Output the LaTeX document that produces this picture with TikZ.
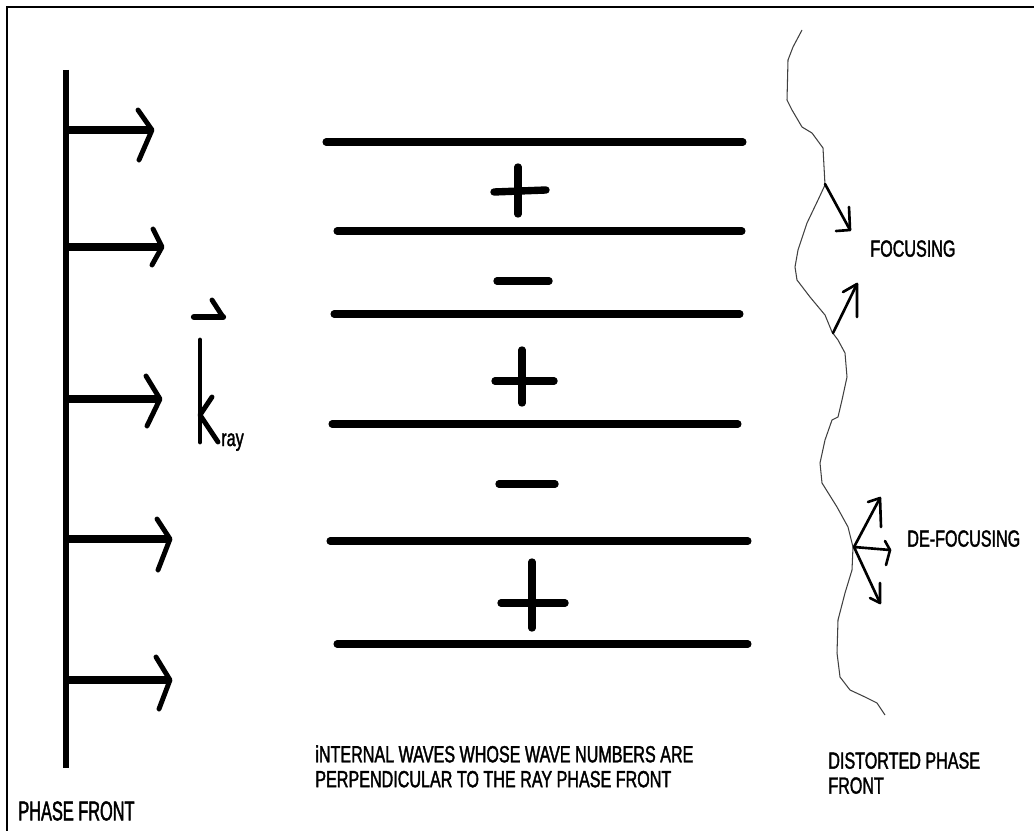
\documentclass[tikz,border=0pt]{standalone}
\usepackage{fontspec}
\newfontfamily\lab{Liberation Sans}[FakeStretch=0.69,FakeBold=1.6]
\newfontfamily\labn{Liberation Sans}[FakeStretch=0.6,FakeBold=1.6]
\begin{document}
\begin{tikzpicture}[x=0.02cm,y=-0.02cm,
  frame/.style={line width=1.3pt},
  pfline/.style={line width=2.9pt},
  shaft/.style={line width=4.4pt},
  chev/.style={line width=2.8pt,line cap=round,line join=round},
  kstroke/.style={line width=2.8pt,line cap=round,line join=round},
  kbar/.style={line width=3.6pt,line cap=round,line join=round},
  wave/.style={line width=4pt,line cap=round},
  sign/.style={line width=4.2pt,line cap=round},
  front/.style={line width=0.6pt,black!75,line join=round},
  small/.style={line width=1.5pt,line cap=round,line join=round},
  lbl/.style={inner sep=0pt,font=\lab\fontsize{13.3}{14.2}\selectfont,align=left},
]
\useasboundingbox (0,0) rectangle (1034,831);
% frame
\draw[frame] (7,831) -- (7,7) -- (1034,7);

% phase front
\coordinate (pft) at (66,70);
\coordinate (pfb) at (66,768);
\draw[pfline] (pft) -- (pfb);

% rays
\foreach \y/\tx/\ux/\uy/\lx/\ly [count=\i] in
  {130/152/138/110/139/160, 247/162/153/229/152/265, 399/160/146/376/147/426,
   539/170/157/519/158/570, 680/170/156/657/159/709}{
  \coordinate (s\i) at (66,\y);
  \coordinate (t\i) at (\tx,\y);
  \coordinate (u\i) at (\ux,\uy);
  \coordinate (l\i) at (\lx,\ly);
  \draw[shaft] (s\i) -- (t\i);
  \draw[chev] (u\i) -- (t\i) -- (l\i);
}

% k vector
\coordinate (kh) at (212,300);
\coordinate (kt) at (223,317);
\coordinate (kb) at (194,317);
\draw[kstroke] (kh) -- (kt);
\draw[kbar] (kt) -- (kb);
\coordinate (k1) at (200,340);
\coordinate (k2) at (200,442);
\coordinate (k3) at (212,397);
\coordinate (k4) at (200,415);
\coordinate (k5) at (218,442);
\draw[kstroke] (k1) -- (k2);
\draw[kstroke] (k3) -- (k4) -- (k5);
\node[lbl,anchor=base west] (ray) at (221,446) {ray};

% internal wave lines
\foreach \y/\a/\b [count=\i] in
  {142/326/743, 231/337/742, 314/334/740, 424/332/738, 541/330/748, 644/337/748}{
  \coordinate (wa\i) at (\a,\y);
  \coordinate (wb\i) at (\b,\y);
  \draw[wave] (wa\i) -- (wb\i);
}

% signs
\draw[sign] (494,192) -- (546,190);
\draw[sign] (518,167) -- (518,214);
\draw[sign] (497,281) -- (549,281);
\draw[sign] (495,381) -- (554,381);
\draw[sign] (522,350) -- (522,403);
\draw[sign] (499,484) -- (555,484);
\draw[sign] (501,603) -- (565,603);
\draw[sign] (532,562) -- (532,628);

% distorted phase front
\draw[front] (802,30) -- (793,47) -- (788,60) -- (787,100) -- (792,110) -- (802,127)
  -- (812,133) -- (823,148) -- (825,185) -- (818,200) -- (807,223) -- (798,250)
  -- (795,267) -- (797,280) -- (810,297) -- (825,315) -- (832,332) -- (838,340)
  -- (845,353) -- (847,377) -- (842,400) -- (838,417) -- (832,420) -- (825,440)
  -- (820,463) -- (822,483) -- (837,507) -- (848,527) -- (853,547) -- (852,570)
  -- (845,593) -- (838,620) -- (837,653) -- (840,677) -- (850,690) -- (865,697)
  -- (877,703) -- (885,715);

% focusing arrows
\coordinate (f1o) at (825,184);
\coordinate (f1t) at (850,230);
\draw[small] (f1o) -- (f1t);
\draw[small] (849,207) -- (f1t) -- (836,231);
\coordinate (f2o) at (833,333);
\coordinate (f2t) at (857,284);
\draw[small] (f2o) -- (f2t);
\draw[small] (857,317) -- (f2t) -- (843,292);

% de-focusing arrows
\coordinate (d0) at (854,547);
\coordinate (d1) at (880,498);
\coordinate (d2) at (890,550);
\coordinate (d3) at (880,603);
\draw[small] (d0) -- (d1);
\draw[small] (881,527) -- (d1) -- (868,502);
\draw[small] (d0) -- (d2);
\draw[small] (885,541) -- (d2) -- (886,565);
\draw[small] (d0) -- (d3);
\draw[small] (880,583) -- (d3) -- (870,598);

% labels
\node[lbl,anchor=north west] (internal) at (315,745)
  {iNTERNAL WAVES WHOSE WAVE NUMBERS ARE\\PERPENDICULAR TO THE RAY PHASE FRONT};
\node[inner sep=0pt,anchor=north west,font=\labn\fontsize{15.5}{17}\selectfont] (phase) at (18,801) {PHASE FRONT};
\node[lbl,anchor=north west] (focus) at (870,240) {FOCUSING};
\node[lbl,anchor=north west] (defocus) at (907,530) {DE-FOCUSING};
\node[lbl,anchor=north west] (distorted) at (828,752) {DISTORTED PHASE\\FRONT};
\end{tikzpicture}
\end{document}
